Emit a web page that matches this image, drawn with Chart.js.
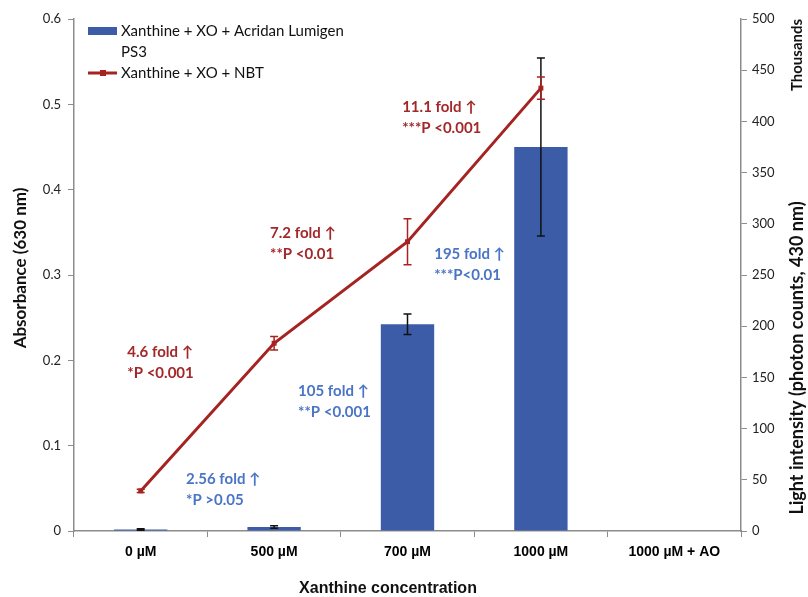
<!DOCTYPE html>
<html>
<head>
<meta charset="utf-8">
<script src="https://cdn.jsdelivr.net/npm/chart.js@4.4.1/dist/chart.umd.min.js"></script>
<style>
  html, body { margin: 0; padding: 0; background: #fff; }
  #wrap { width: 808px; height: 597px; position: relative; }
</style>
</head>
<body>
<div id="wrap"><canvas id="chart"></canvas></div>
<script>
// categories and values
var categories = ['0 µM', '500 µM', '700 µM', '1000 µM', '1000 µM + AO'];
var lightThousands = [1.5, 4, 202, 375, null];     // right axis (thousands)
var lightErr = [0.8, 1.2, 10, 87, null];
var absorbance = [0.047, 0.22, 0.339, 0.519, null]; // left axis
var absorbanceErr = [0.002, 0.008, 0.027, 0.013, null];
var absTicks = [0, 0.1, 0.2, 0.3, 0.4, 0.5, 0.6];
var lightTicks = [0, 50, 100, 150, 200, 250, 300, 350, 400, 450, 500];

var barLabel = 'Xanthine + XO + Acridan Lumigen PS3';
var lineLabel = 'Xanthine + XO + NBT';

// fold-change notes: category position (fractional index) and left-axis value
var notes = [
    { lines: ['4.6 fold ↑', '*P <0.001'], at: -0.10, v: 0.209, color: '#a3282a' },
    { lines: ['2.56 fold ↑', '*P >0.05'], at: 0.34, v: 0.061, color: '#4a74c6' },
    { lines: ['7.2 fold ↑', '**P <0.01'], at: 0.97, v: 0.349, color: '#a3282a' },
    { lines: ['105 fold ↑', '**P <0.001'], at: 1.18, v: 0.164, color: '#4a74c6' },
    { lines: ['11.1 fold ↑', '***P <0.001'], at: 1.96, v: 0.497, color: '#a3282a' },
    { lines: ['195 fold ↑', '***P<0.01'], at: 2.20, v: 0.325, color: '#4a74c6' }
];

var BLUE = '#3d5ca8';
var RED = '#a52320';
var AXIS = '#8c8c8c';
var FONT = 'Lato, "Open Sans", sans-serif';

function drawErrors(chart, values, errs, scaleId, color) {
    var ctx = chart.ctx;
    var x = chart.scales.x, y = chart.scales[scaleId];
    ctx.save();
    ctx.strokeStyle = color;
    ctx.lineWidth = 1.5;
    values.forEach(function (v, i) {
        if (v == null || errs[i] == null) return;
        var px = x.getPixelForValue(i);
        var top = y.getPixelForValue(v + errs[i]);
        var bot = y.getPixelForValue(v - errs[i]);
        ctx.beginPath();
        ctx.moveTo(px, top); ctx.lineTo(px, bot);
        ctx.moveTo(px - 4, top); ctx.lineTo(px + 4, top);
        ctx.moveTo(px - 4, bot); ctx.lineTo(px + 4, bot);
        ctx.stroke();
    });
    ctx.restore();
}

function vText(ctx, text, x, y) {
    ctx.save();
    ctx.translate(x, y);
    ctx.rotate(-Math.PI / 2);
    ctx.fillText(text, 0, 0);
    ctx.restore();
}

var extras = {
    id: 'extras',
    afterDatasetDraw: function (chart, args) {
        if (args.index === 1) drawErrors(chart, lightThousands, lightErr, 'y1', '#111');
        if (args.index === 0) drawErrors(chart, absorbance, absorbanceErr, 'y', RED);
    },
    afterDraw: function (chart) {
        var ctx = chart.ctx;
        var x = chart.scales.x, y = chart.scales.y;
        var area = chart.chartArea;
        ctx.save();

        // notes
        ctx.font = 'bold 15px ' + FONT;
        ctx.textAlign = 'left';
        ctx.textBaseline = 'middle';
        notes.forEach(function (n) {
            var px = x.getPixelForValue(n.at);
            var py = y.getPixelForValue(n.v);
            ctx.fillStyle = n.color;
            n.lines.forEach(function (t, k) { ctx.fillText(t, px, py + k * 21); });
        });

        // legend
        var lx = area.left + 14, ly = area.top + 12;
        ctx.fillStyle = BLUE;
        ctx.fillRect(lx, ly - 4, 29, 8);
        ctx.strokeStyle = RED;
        ctx.lineWidth = 3;
        ctx.beginPath();
        ctx.moveTo(lx, ly + 42); ctx.lineTo(lx + 29, ly + 42);
        ctx.stroke();
        ctx.fillStyle = RED;
        ctx.fillRect(lx + 12, ly + 39, 6, 6);
        ctx.fillStyle = '#111';
        ctx.font = '15px ' + FONT;
        ctx.fillText('Xanthine + XO + Acridan Lumigen', lx + 33, ly);
        ctx.fillText('PS3', lx + 33, ly + 21);
        ctx.fillText(lineLabel, lx + 33, ly + 42);

        // axis titles
        ctx.textAlign = 'center';
        ctx.font = 'bold 17px ' + FONT;
        vText(ctx, 'Absorbance (630 nm)', 21, 268);
        ctx.font = 'bold 18px ' + FONT;
        vText(ctx, 'Light intensity (photon counts, 430 nm)', 797, 358);
        ctx.font = 'bold 15px ' + FONT;
        vText(ctx, 'Thousands', 797, 55);
        ctx.font = 'bold 16px "Liberation Sans Narrow", "Liberation Sans", sans-serif';
        ctx.fillText('Xanthine concentration', 388, 589);

        ctx.restore();
    }
};

var ctx = document.getElementById('chart').getContext('2d');
var chart = new Chart(ctx, {
    type: 'bar',
    data: {
        labels: categories,
        datasets: [{
            type: 'line',
            label: lineLabel,
            data: absorbance,
            yAxisID: 'y',
            borderColor: RED,
            backgroundColor: RED,
            borderWidth: 3,
            pointStyle: 'rect',
            pointRadius: 3.5,
            pointBackgroundColor: RED,
            pointBorderWidth: 0,
            tension: 0,
            fill: false,
            order: 0
        }, {
            type: 'bar',
            label: barLabel,
            data: lightThousands,
            yAxisID: 'y1',
            backgroundColor: BLUE,
            barPercentage: 0.4,
            categoryPercentage: 1,
            order: 1
        }]
    },
    options: {
        responsive: true,
        maintainAspectRatio: false,
        animation: false,
        layout: { padding: { top: 19, left: 0, right: 0, bottom: 0 } },
        plugins: {
            legend: { display: false },
            tooltip: { enabled: false }
        },
        scales: {
            x: {
                grid: { drawOnChartArea: false, drawTicks: true, tickLength: 6, color: AXIS, offset: true },
                border: { color: AXIS, width: 1.5 },
                ticks: {
                    color: '#000',
                    padding: 7,
                    maxRotation: 0,
                    font: { family: '"Liberation Sans Narrow", "Liberation Sans", sans-serif', size: 14, weight: 'bold' }
                },
                afterFit: function (s) { s.height = 66; }
            },
            y: {
                position: 'left',
                min: 0, max: 0.6,
                afterBuildTicks: function (s) { s.ticks = absTicks.map(function (v) { return { value: v }; }); },
                grid: { drawOnChartArea: false, drawTicks: true, tickLength: 6, color: AXIS },
                border: { color: AXIS, width: 1.5 },
                ticks: {
                    color: '#222',
                    padding: 7,
                    font: { family: FONT, size: 13 },
                    callback: function (v) { return String(v); }
                },
                afterFit: function (s) { s.width = 74; }
            },
            y1: {
                position: 'right',
                min: 0, max: 500,
                afterBuildTicks: function (s) { s.ticks = lightTicks.map(function (v) { return { value: v }; }); },
                grid: { drawOnChartArea: false, drawTicks: true, tickLength: 6, color: AXIS },
                border: { color: AXIS, width: 1.5 },
                ticks: {
                    color: '#222',
                    padding: 5,
                    font: { family: FONT, size: 13 }
                },
                afterFit: function (s) { s.width = 67; }
            }
        }
    },
    plugins: [extras]
});
</script>
</body>
</html>
